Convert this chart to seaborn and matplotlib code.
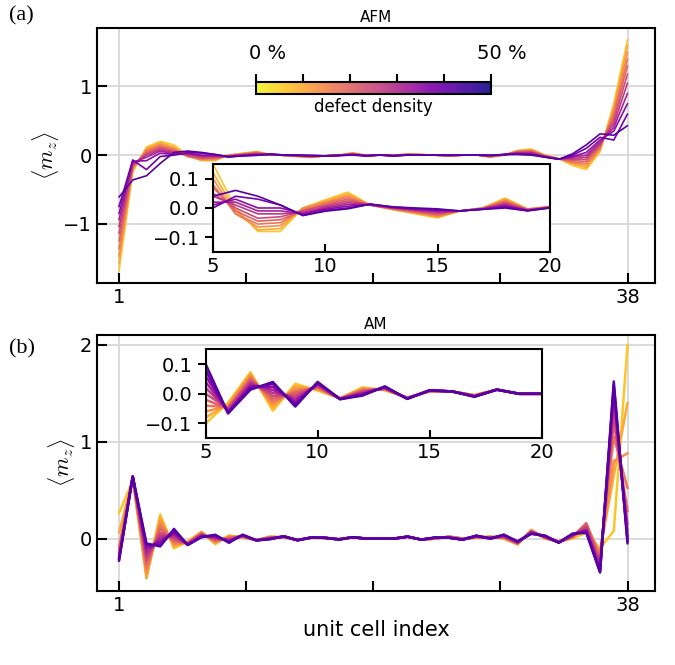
# magnetizacion local <m_z> por celda, AFM y AM, para distintas densidades de defectos
import numpy as np
import pandas as pd
import matplotlib
matplotlib.use('Agg')
import matplotlib.pyplot as plt
import seaborn as sns
from matplotlib.cm import ScalarMappable
from matplotlib.colors import Normalize

# datos
sites = list(range(1, 39))
densities = [0, 5, 10, 15, 20, 25, 30, 35, 40, 45, 50]

# AFM, una fila por densidad de defectos (0 % ... 50 %)
afm_mz = [
    [-1.69, -0.25, 0.12, 0.20, 0.15, 0.00, -0.080, -0.08, 0.000, 0.028, 0.054, 0.010, -0.006, -0.020, -0.034, -0.010, 0.000, 0.034, -0.003, 0.005,
     0.000, 0.015, 0.010, 0.000, -0.010, 0.000, 0.005, -0.030, 0.000, 0.070, 0.090, 0.000, -0.050, -0.15, -0.21, 0.05, 0.75, 1.68],
    [-1.58, -0.22, 0.10, 0.18, 0.12, -0.01, -0.075, -0.07, 0.000, 0.024, 0.048, 0.010, -0.005, -0.018, -0.031, -0.010, 0.000, 0.031, -0.004, 0.005,
     0.000, 0.013, 0.009, 0.000, -0.009, 0.000, 0.005, -0.027, 0.001, 0.064, 0.081, -0.003, -0.051, -0.13, -0.18, 0.07, 0.70, 1.60],
    [-1.47, -0.20, 0.08, 0.16, 0.10, -0.02, -0.065, -0.06, 0.000, 0.020, 0.042, 0.010, -0.004, -0.016, -0.028, -0.010, 0.000, 0.027, -0.004, 0.004,
     0.000, 0.012, 0.008, 0.000, -0.008, 0.000, 0.004, -0.024, 0.002, 0.058, 0.072, -0.006, -0.052, -0.11, -0.15, 0.09, 0.65, 1.50],
    [-1.36, -0.18, 0.06, 0.14, 0.08, -0.02, -0.055, -0.05, -0.005, 0.016, 0.036, 0.010, -0.003, -0.014, -0.025, -0.010, -0.001, 0.024, -0.005, 0.004,
     0.000, 0.010, 0.007, 0.000, -0.007, 0.000, 0.004, -0.021, 0.003, 0.052, 0.063, -0.009, -0.053, -0.10, -0.12, 0.11, 0.60, 1.40],
    [-1.25, -0.16, 0.04, 0.12, 0.07, -0.01, -0.045, -0.04, -0.010, 0.012, 0.030, 0.010, -0.002, -0.012, -0.022, -0.010, -0.002, 0.020, -0.006, 0.003,
     -0.005, 0.009, 0.006, 0.000, -0.006, 0.000, 0.003, -0.018, 0.004, 0.046, 0.054, -0.012, -0.054, -0.08, -0.09, 0.13, 0.55, 1.30],
    [-1.14, -0.14, 0.02, 0.10, 0.05, 0.00, -0.035, -0.03, -0.010, 0.008, 0.024, 0.010, -0.001, -0.010, -0.019, -0.010, -0.002, 0.017, -0.006, 0.003,
     -0.005, 0.007, 0.005, 0.000, -0.005, 0.000, 0.003, -0.015, 0.005, 0.040, 0.045, -0.015, -0.055, -0.06, -0.06, 0.15, 0.50, 1.18],
    [-1.04, -0.13, 0.00, 0.08, 0.04, 0.01, -0.020, -0.02, -0.015, 0.004, 0.018, 0.010, 0.000, -0.008, -0.015, -0.010, -0.003, 0.014, -0.007, 0.002,
     -0.005, 0.006, 0.004, 0.000, -0.004, 0.000, 0.002, -0.012, 0.006, 0.034, 0.036, -0.018, -0.056, -0.05, -0.03, 0.17, 0.45, 1.05],
    [-0.94, -0.11, -0.03, 0.06, 0.02, 0.02, -0.010, -0.01, -0.020, 0.000, 0.012, 0.012, 0.001, -0.006, -0.012, -0.010, -0.003, 0.010, -0.008, 0.002,
     -0.005, 0.004, 0.003, 0.000, -0.003, 0.000, 0.002, -0.009, 0.007, 0.028, 0.027, -0.021, -0.057, -0.03, 0.00, 0.19, 0.40, 0.90],
    [-0.85, -0.09, -0.08, 0.03, 0.01, 0.03, 0.000, 0.00, -0.020, -0.004, 0.006, 0.012, 0.002, -0.004, -0.009, -0.010, -0.004, 0.007, -0.008, 0.001,
     -0.010, 0.003, 0.002, 0.000, -0.002, 0.000, 0.001, -0.006, 0.008, 0.022, 0.018, -0.024, -0.058, -0.02, 0.04, 0.22, 0.35, 0.75],
    [-0.75, -0.07, -0.21, -0.02, 0.00, 0.04, 0.030, 0.01, -0.025, -0.008, 0.000, 0.013, 0.003, -0.002, -0.006, -0.010, -0.004, 0.003, -0.009, 0.001,
     -0.010, 0.001, 0.001, 0.000, -0.001, 0.000, 0.001, -0.003, 0.009, 0.016, 0.009, -0.027, -0.059, 0.00, 0.10, 0.26, 0.22, 0.60],
    [-0.61, -0.36, -0.30, -0.12, 0.04, 0.06, 0.040, 0.01, -0.026, -0.011, -0.003, 0.013, 0.004, 0.000, -0.003, -0.010, -0.005, 0.000, -0.010, 0.000,
     -0.010, 0.000, 0.000, 0.000, 0.000, 0.000, 0.000, 0.000, 0.010, 0.010, 0.000, -0.030, -0.060, 0.02, 0.15, 0.31, 0.29, 0.43],
]

# AM
am_mz = [
    [0.26, 0.60, -0.38, 0.25, -0.10, -0.030, 0.073, -0.057, 0.034, 0.011, -0.015, 0.022, 0.012, -0.012, 0.008, 0.008, -0.004, 0.014, 0.000, 0.000,
     0.00, 0.02, -0.01, 0.00, 0.02, 0.00, 0.01, 0.02, 0.00, -0.06, 0.09, 0.00, -0.03, 0.00, 0.06, -0.10, 0.08, 2.00],
    [0.06, 0.62, -0.41, 0.22, -0.08, -0.035, 0.067, -0.047, 0.026, 0.014, -0.015, 0.019, 0.013, -0.013, 0.008, 0.008, -0.005, 0.014, 0.000, 0.000,
     0.00, 0.02, -0.01, 0.00, 0.02, 0.00, 0.01, 0.02, 0.00, -0.06, 0.09, 0.00, -0.03, 0.01, 0.10, -0.13, 0.65, 1.40],
    [-0.08, 0.63, -0.36, 0.18, -0.06, -0.040, 0.061, -0.037, 0.018, 0.017, -0.016, 0.016, 0.014, -0.013, 0.009, 0.008, -0.005, 0.014, 0.000, 0.000,
     0.00, 0.02, -0.01, 0.00, 0.02, 0.00, 0.01, 0.02, 0.01, -0.05, 0.08, 0.01, -0.03, 0.01, 0.14, -0.16, 0.80, 0.88],
    [-0.12, 0.64, -0.31, 0.14, -0.04, -0.045, 0.055, -0.027, 0.010, 0.020, -0.016, 0.013, 0.016, -0.014, 0.009, 0.008, -0.006, 0.014, 0.000, 0.000,
     0.00, 0.02, -0.01, 0.00, 0.02, 0.00, 0.02, 0.01, 0.01, -0.05, 0.08, 0.01, -0.03, 0.02, 0.16, -0.19, 1.05, 0.52],
    [-0.15, 0.64, -0.26, 0.10, -0.02, -0.050, 0.049, -0.017, 0.003, 0.023, -0.016, 0.010, 0.017, -0.014, 0.010, 0.008, -0.007, 0.014, 0.000, 0.000,
     0.00, 0.02, -0.01, 0.00, 0.02, 0.00, 0.02, 0.01, 0.02, -0.05, 0.07, 0.01, -0.04, 0.02, 0.15, -0.22, 1.20, 0.28],
    [-0.17, 0.64, -0.22, 0.06, 0.00, -0.050, 0.043, -0.007, -0.005, 0.026, -0.017, 0.008, 0.018, -0.015, 0.010, 0.008, -0.007, 0.014, 0.000, 0.000,
     0.00, 0.02, -0.01, 0.01, 0.01, -0.01, 0.02, 0.01, 0.02, -0.04, 0.07, 0.02, -0.04, 0.03, 0.13, -0.25, 1.30, 0.15],
    [-0.19, 0.64, -0.18, 0.03, 0.02, -0.055, 0.037, 0.003, -0.013, 0.029, -0.017, 0.005, 0.019, -0.015, 0.011, 0.008, -0.008, 0.014, 0.000, 0.000,
     0.00, 0.02, -0.01, 0.01, 0.01, -0.01, 0.02, 0.01, 0.02, -0.04, 0.07, 0.02, -0.04, 0.03, 0.11, -0.28, 1.40, 0.08],
    [-0.20, 0.64, -0.14, 0.00, 0.04, -0.060, 0.031, 0.013, -0.021, 0.032, -0.017, 0.002, 0.021, -0.016, 0.011, 0.008, -0.008, 0.014, 0.000, 0.000,
     0.00, 0.02, -0.01, 0.01, 0.01, -0.01, 0.02, 0.01, 0.03, -0.04, 0.06, 0.02, -0.04, 0.04, 0.09, -0.30, 1.48, 0.03],
    [-0.21, 0.64, -0.10, -0.03, 0.06, -0.060, 0.025, 0.023, -0.029, 0.035, -0.018, -0.001, 0.022, -0.016, 0.012, 0.008, -0.009, 0.014, 0.000, 0.000,
     0.00, 0.02, -0.01, 0.01, 0.01, -0.01, 0.03, 0.00, 0.03, -0.03, 0.06, 0.02, -0.04, 0.04, 0.08, -0.32, 1.54, 0.00],
    [-0.22, 0.64, -0.07, -0.06, 0.08, -0.065, 0.020, 0.033, -0.036, 0.038, -0.018, -0.004, 0.024, -0.017, 0.012, 0.008, -0.009, 0.014, 0.000, 0.000,
     0.00, 0.02, -0.01, 0.01, 0.01, -0.01, 0.03, 0.00, 0.04, -0.03, 0.05, 0.03, -0.04, 0.05, 0.07, -0.34, 1.58, -0.03],
    [-0.23, 0.64, -0.05, -0.08, 0.10, -0.066, 0.014, 0.040, -0.043, 0.040, -0.018, -0.006, 0.025, -0.017, 0.012, 0.008, -0.010, 0.014, 0.000, 0.000,
     0.00, 0.02, -0.01, 0.01, 0.01, -0.01, 0.03, 0.00, 0.04, -0.03, 0.05, 0.03, -0.04, 0.05, 0.06, -0.35, 1.62, -0.05],
]


def to_long(rows):
    recs = []
    for d, row in zip(densities, rows):
        for s, m in zip(sites, row):
            recs.append({'site': s, 'mz': m, 'density': d})
    return pd.DataFrame(recs)


df_afm = to_long(afm_mz)
df_am = to_long(am_mz)

# colores de las lineas (plasma, de amarillo a morado)
cols = plt.cm.plasma(np.linspace(0.88, 0.15, len(densities)))
palette = {d: c for d, c in zip(densities, cols)}

sns.set_style('ticks')
plt.rcParams['font.family'] = ['DejaVu Sans']
plt.rcParams['mathtext.fontset'] = 'cm'
plt.rcParams['axes.linewidth'] = 1.5
for k in ['text.color', 'axes.labelcolor', 'axes.edgecolor', 'xtick.color', 'ytick.color']:
    plt.rcParams[k] = 'black'

fig = plt.figure(figsize=(6.75, 6.65), dpi=100)
ax_a = fig.add_axes([0.1437, 0.5744, 0.8267, 0.3835])
ax_b = fig.add_axes([0.1437, 0.1113, 0.8267, 0.3850])
grid_kw = dict(color='#d8d8d8', lw=1.3, zorder=0)


def style_main(ax, yticks, ylim, title):
    ax.set_xlim(-0.6, 40)
    ax.set_ylim(ylim)
    ax.set_xticks(np.linspace(1, 38, 5))
    ax.set_xticklabels(['1', '', '', '', '38'])
    ax.set_yticks(yticks)
    for y in yticks:
        ax.axhline(y, **grid_kw)
    ax.axvline(1, **grid_kw)
    ax.axvline(38, **grid_kw)
    ax.tick_params(direction='in', length=7, width=1.5, labelsize=14)
    ax.set_xlabel('')
    ax.set_ylabel(r'$\langle m_z \rangle$', fontsize=16, labelpad=2)
    ax.set_title(title, fontsize=11, pad=4)


def style_inset(ax):
    ax.set_xlim(5, 20)
    ax.set_ylim(-0.15, 0.15)
    ax.set_xticks([5, 10, 15, 20])
    ax.set_yticks([-0.1, 0.0, 0.1])
    ax.tick_params(axis='x', direction='in', length=6, width=1.5, labelsize=14)
    ax.tick_params(axis='y', direction='out', length=6, width=1.5, labelsize=14)
    ax.set_xlabel('')
    ax.set_ylabel('')


# (a) AFM
sns.lineplot(data=df_afm, x='site', y='mz', hue='density', palette=palette,
             legend=False, errorbar=None, lw=1.2, ax=ax_a)
style_main(ax_a, [-1, 0, 1], (-1.86, 1.85), 'AFM')

ins_a = fig.add_axes([0.3156, 0.6211, 0.4993, 0.1323])
sns.lineplot(data=df_afm[df_afm.site.between(5, 20)], x='site', y='mz', hue='density',
             palette=palette, legend=False, errorbar=None, lw=1.2, ax=ins_a)
style_inset(ins_a)

# barra de color
cax = fig.add_axes([0.3788, 0.8586, 0.3486, 0.0176])
cb = fig.colorbar(ScalarMappable(norm=Normalize(0, 50), cmap='plasma_r'), cax=cax,
                  orientation='horizontal', alpha=0.9)
cb.set_ticks([0, 10, 20, 30, 40, 50])
cb.set_ticklabels([])
cax.xaxis.set_ticks_position('top')
cax.tick_params(direction='out', length=6, width=1.5)
cb.outline.set_linewidth(1.5)
cax.xaxis.set_label_position('bottom')
cb.set_label('defect density', fontsize=12, labelpad=3)
cax.annotate('0 %', xy=(0, 1), xycoords=('data', 'axes fraction'), xytext=(8.5, 17),
             textcoords='offset points', ha='center', va='baseline', fontsize=14)
cax.annotate('50 %', xy=(50, 1), xycoords=('data', 'axes fraction'), xytext=(8, 17),
             textcoords='offset points', ha='center', va='baseline', fontsize=14)

# (b) AM
sns.lineplot(data=df_am, x='site', y='mz', hue='density', palette=palette,
             legend=False, errorbar=None, lw=1.8, ax=ax_b)
style_main(ax_b, [0, 1, 2], (-0.54, 2.1), 'AM')
ax_b.set_xlabel('unit cell index', fontsize=15)

ins_b = fig.add_axes([0.3047, 0.3409, 0.4978, 0.1338])
sns.lineplot(data=df_am[df_am.site.between(5, 20)], x='site', y='mz', hue='density',
             palette=palette, legend=False, errorbar=None, lw=1.8, ax=ins_b)
style_inset(ins_b)

fig.text(0.014, 0.99, '(a)', family='Liberation Serif', fontsize=16, va='top')
fig.text(0.014, 0.49, '(b)', family='Liberation Serif', fontsize=16, va='top')

fig.savefig('out.png', dpi=100)
